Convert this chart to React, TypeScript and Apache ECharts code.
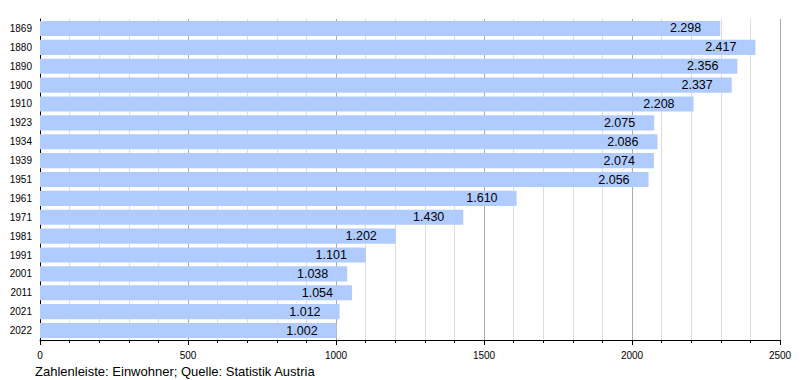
import React, { useEffect, useRef } from "react";
import * as echarts from "echarts";

const years = ["1869", "1880", "1890", "1900", "1910", "1923", "1934", "1939", "1951", "1961", "1971", "1981", "1991", "2001", "2011", "2021", "2022"];
const population = [2298, 2417, 2356, 2337, 2208, 2075, 2086, 2074, 2056, 1610, 1430, 1202, 1101, 1038, 1054, 1012, 1002];
const footerText = "Zahlenleiste: Einwohner; Quelle: Statistik Austria";

function fmt(v: number): string {
  const s = String(Math.round(v));
  return s.replace(/\B(?=(\d{3})+(?!\d))/g, ".");
}

export default function App() {
  const ref = useRef<HTMLDivElement>(null);
  useEffect(() => {
    document.body.style.margin = "0";
    const chart = echarts.init(ref.current!, null, { renderer: "svg" });
    chart.setOption({
      animation: false,
      textStyle: { fontFamily: "Liberation Sans, Arial, sans-serif" },
      grid: { left: 40, right: 20, top: 19, bottom: 40 },
      graphic: [
        {
          type: "text",
          left: 35,
          top: 365,
          style: { text: footerText, fontSize: 13, fill: "#000", fontFamily: "Liberation Sans, Arial, sans-serif" },
        },
      ],
      xAxis: {
        type: "value",
        min: 0,
        max: 2500,
        interval: 500,
        axisLine: { show: true, lineStyle: { color: "#000", width: 1 } },
        axisTick: { show: true, length: 5, lineStyle: { color: "#000" } },
        minorTick: { show: true, splitNumber: 5, length: 3, lineStyle: { color: "#000" } },
        axisLabel: { color: "#000", fontSize: 10, margin: 10, formatter: (v: number) => String(v) },
        splitLine: { show: true, lineStyle: { color: "#aaa", width: 1 } },
        minorSplitLine: { show: true, lineStyle: { color: "#ddd", width: 1 } },
      },
      yAxis: {
        type: "category",
        data: years,
        inverse: true,
        axisLine: { show: true, lineStyle: { color: "#000", width: 1 } },
        axisTick: { show: false },
        axisLabel: { color: "#000", fontSize: 10, margin: 8 },
        splitLine: { show: false },
      },
      series: [
        {
          type: "bar",
          data: population,
          barCategoryGap: "20%",
          itemStyle: { color: "#b0ccff" },
          label: {
            show: true,
            position: "insideRight",
            distance: 19,
            color: "#000",
            fontSize: 12.5,
            formatter: (p: any) => fmt(p.value),
          },
        },
      ],
    });
    return () => chart.dispose();
  }, []);
  return <div ref={ref} style={{ width: 800, height: 380 }} />;
}
